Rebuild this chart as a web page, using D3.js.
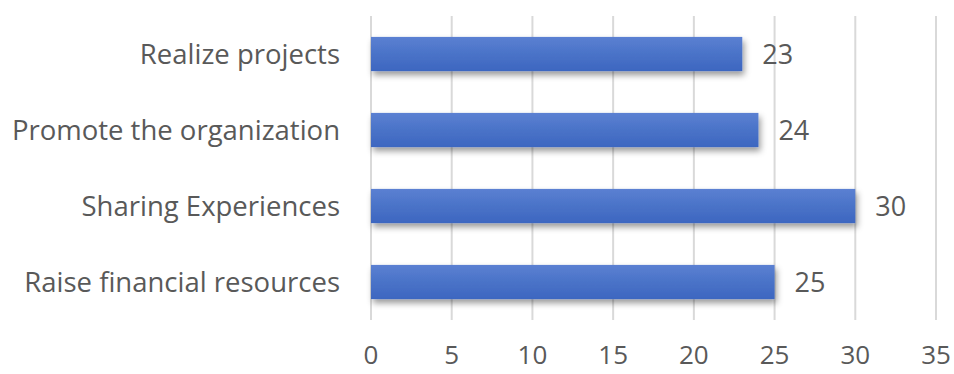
<!DOCTYPE html>
<html><head><meta charset="utf-8">
<script src="https://cdn.jsdelivr.net/npm/d3@7"></script>
<style>body{margin:0;background:#fff}svg{display:block}text{font-variant-ligatures:none}</style>
</head><body>
<script>
const categories = ["Realize projects","Promote the organization","Sharing Experiences","Raise financial resources"];
const values = [23,24,30,25];
const ticks = [0,5,10,15,20,25,30,35];

const W=954,H=374;
const svg=d3.select("body").append("svg").attr("width",W).attr("height",H);
const defs=svg.append("defs");
const g=defs.append("linearGradient").attr("id","bg").attr("x1",0).attr("y1",0).attr("x2",0).attr("y2",1);
g.append("stop").attr("offset","0%").attr("stop-color","#5b80d2");
g.append("stop").attr("offset","50%").attr("stop-color","#4a73c8");
g.append("stop").attr("offset","100%").attr("stop-color","#3d66c0");
const f=defs.append("filter").attr("id","sh").attr("x","-5%").attr("y","-30%").attr("width","115%").attr("height","180%");
f.append("feDropShadow").attr("dx",2).attr("dy",4).attr("stdDeviation",3).attr("flood-color","#000").attr("flood-opacity",0.4);

const x=d3.scaleLinear().domain([0,35]).range([371,936]);
const y=d3.scaleBand().domain(categories).range([16,320]).paddingInner(0.55).paddingOuter(0.275);

svg.append("g").selectAll("line").data(ticks).join("line")
  .attr("x1",d=>x(d)).attr("x2",d=>x(d)).attr("y1",16).attr("y2",320)
  .attr("stroke","#d9d9d9").attr("stroke-width",2);

svg.append("g").selectAll("rect").data(values).join("rect")
  .attr("x",x(0)).attr("y",(d,i)=>y(categories[i]))
  .attr("width",d=>x(d)-x(0)).attr("height",y.bandwidth())
  .attr("fill","url(#bg)").attr("filter","url(#sh)");

const font="'Open Sans', sans-serif";
svg.append("g").selectAll("text").data(values).join("text")
  .attr("x",d=>x(d)+20).attr("y",(d,i)=>y(categories[i])+y.bandwidth()/2)
  .attr("dy","0.36em").attr("font-family",font).attr("font-size",27).attr("fill","#595959")
  .text(d=>d);

svg.append("g").selectAll("text").data(categories).join("text")
  .attr("x",340).attr("y",d=>y(d)+y.bandwidth()/2).attr("text-anchor","end")
  .attr("dy","0.36em").attr("font-family",font).attr("font-size",27.5).attr("fill","#595959")
  .text(d=>d);

svg.append("g").selectAll("text").data(ticks).join("text")
  .attr("x",d=>x(d)).attr("y",355).attr("text-anchor","middle")
  .attr("dy","0.36em").attr("font-family",font).attr("font-size",26).attr("fill","#595959")
  .text(d=>d);
</script>
</body></html>
